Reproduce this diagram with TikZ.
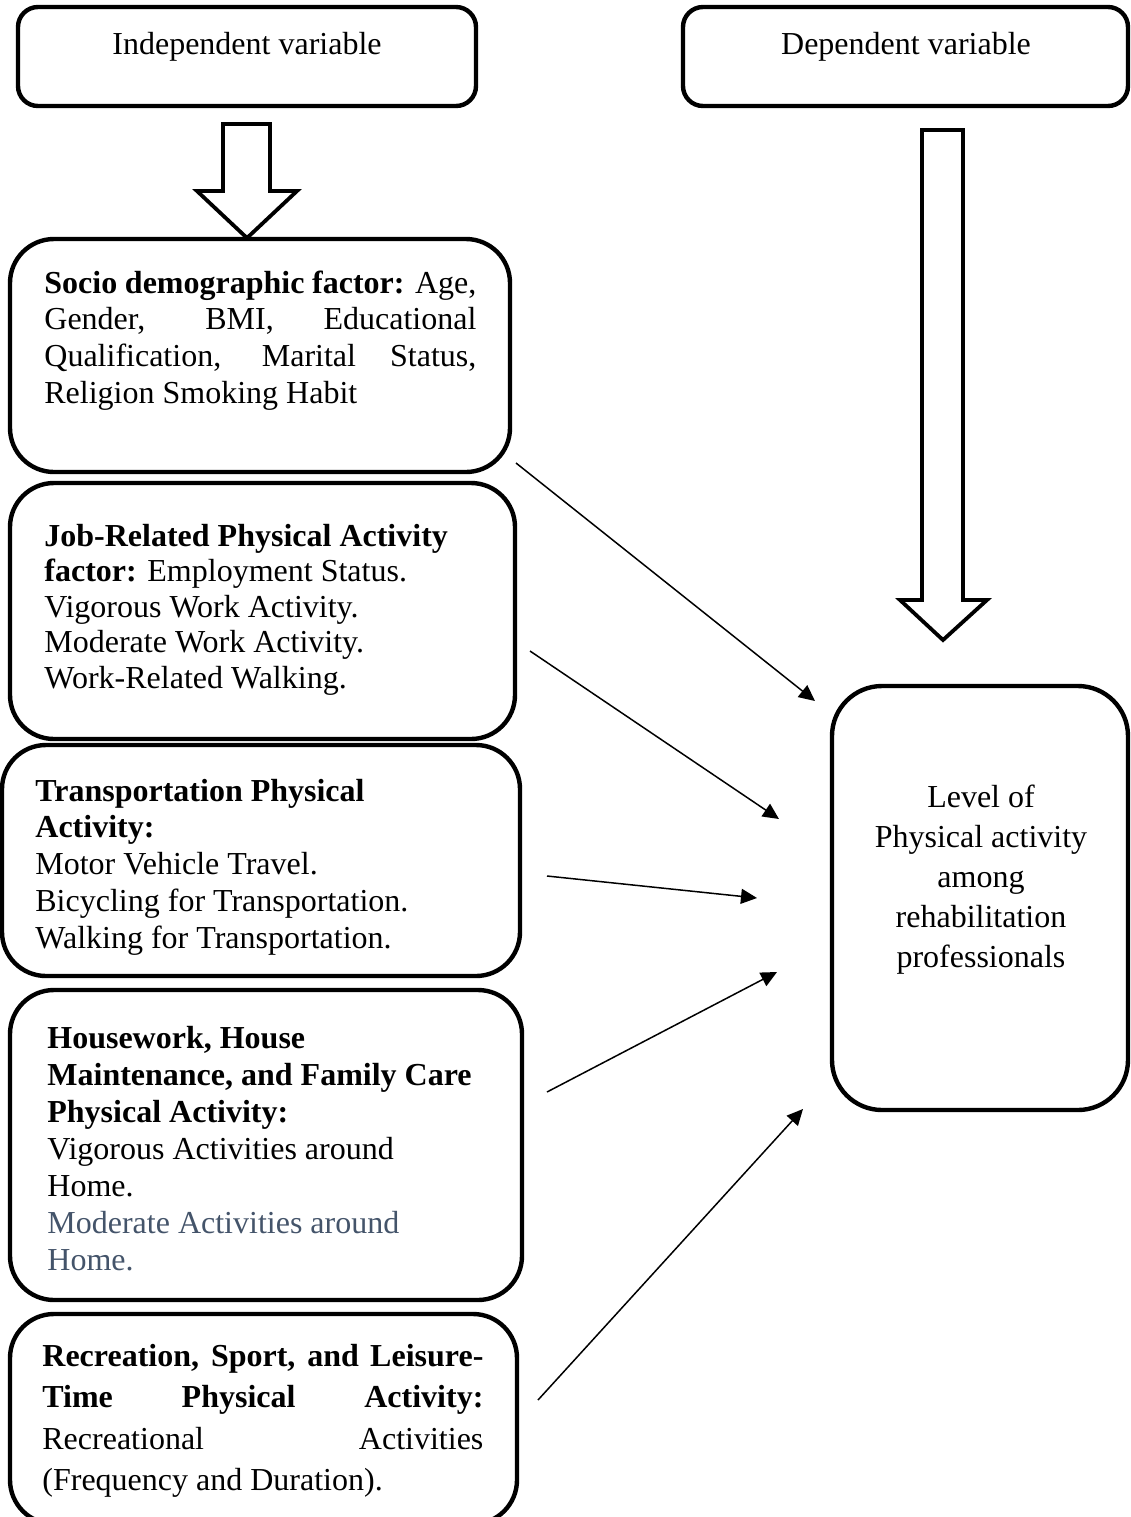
\documentclass[tikz,border=0pt]{standalone}
\usepackage{fontspec}
\setmainfont{Liberation Serif}
\usetikzlibrary{arrows.meta,fit}
\definecolor{slate}{RGB}{68,84,106}
\newcommand{\natspaces}{\spaceskip=0pt\xspaceskip=0pt\relax}
\begin{document}
\begin{tikzpicture}[x=0.5pt,y=-0.5pt,
  box/.style={draw, line width=2.2pt, rounded corners=22pt, inner sep=0pt},
  hdbox/.style={box, rounded corners=10pt},
  txt/.style={anchor=base west, inner sep=0pt},
  conn/.style={line width=0.75pt, -{Triangle[length=8pt,width=7.5pt]}},
  blk/.style={draw, line width=1.9pt, fill=white, miter limit=10},
  font=\fontsize{16}{18.3}\selectfont]
\useasboundingbox (0,0) rectangle (1131,1517);

% header boxes
\node[hdbox, fit={(18,7) (476,106)}] (iv) {};
\node[hdbox, fit={(683,7) (1128,106)}] (dv) {};
\node[anchor=base, inner sep=0pt] (ivt) at (247,54) {Independent variable};
\node[anchor=base, inner sep=0pt] (dvt) at (906,54) {Dependent variable};

% block arrows
\draw[blk] (223,124) -- (270,124) -- (270,191) -- (297,191) -- (247,238) -- (197,191) -- (223,191) -- cycle;
\draw[blk] (922,130) -- (963,130) -- (963,600) -- (987,600) -- (943,640) -- (900,600) -- (922,600) -- cycle;

% left boxes
\node[box, fit={(10,239) (510,472)}] (socio) {};
\node[box, fit={(10,483) (515,739)}] (job) {};
\node[box, fit={(2,745) (520,976)}] (trans) {};
\node[box, fit={(10,990) (522,1300)}] (house) {};
\node[box, fit={(10,1314) (517,1524)}] (recr) {};

% dependent box
\node[box, rounded corners=25pt, fit={(832,686) (1128,1110)}] (level) {};

% texts
\node[txt, text width=216pt, font=\fontsize{16}{18.35}\selectfont] (sociot) at (44,293) {\natspaces
\makebox[\linewidth][s]{\textbf{Socio demographic factor:} Age,}\\
\makebox[\linewidth][s]{Gender, BMI, Educational}\\
\makebox[\linewidth][s]{Qualification, Marital Status,}\\
Religion Smoking Habit};

\node[txt, text width=225pt, font=\fontsize{16}{17.75}\selectfont] (jobt) at (44,546) {\natspaces
\textbf{Job-Related Physical Activity}\\
\textbf{factor:} Employment Status.\\
Vigorous Work Activity.\\
Moderate Work Activity.\\
Work-Related Walking.};

\node[txt, text width=235pt, font=\fontsize{16}{18.4}\selectfont] (transt) at (35,801) {\natspaces
\textbf{Transportation Physical}\\
\textbf{Activity:}\\
Motor Vehicle Travel.\\
Bicycling for Transportation.\\
Walking for Transportation.};

\node[txt, text width=230pt, font=\fontsize{16}{18.5}\selectfont] (houset) at (47,1048) {\natspaces
\textbf{Housework, House}\\
\textbf{Maintenance, and Family Care}\\
\textbf{Physical Activity:}\\
Vigorous Activities around\\
Home.\\
\textcolor{slate}{Moderate Activities around}\\
\textcolor{slate}{Home.}};

\node[txt, text width=220.5pt, font=\fontsize{16}{20.8}\selectfont] (recrt) at (42,1366) {\natspaces
\makebox[\linewidth][s]{\textbf{Recreation, Sport, and Leisure-}}\\
\makebox[\linewidth][s]{\textbf{Time Physical Activity:}}\\
\makebox[\linewidth][s]{Recreational Activities}\\
(Frequency and Duration).};

\node[anchor=base, inner sep=0pt, text width=140pt, font=\fontsize{16}{20.1}\selectfont] (levelt) at (981,807) {\natspaces
\centering Level of\\ Physical activity\\ among\\ rehabilitation\\ professionals\par};

% connectors
\coordinate (a1s) at (516,463);  \coordinate (a1e) at (815,701);
\coordinate (a2s) at (530,651);  \coordinate (a2e) at (779,819);
\coordinate (a3s) at (547,876);  \coordinate (a3e) at (757,898);
\coordinate (a4s) at (547,1092); \coordinate (a4e) at (777,972);
\coordinate (a5s) at (538,1400); \coordinate (a5e) at (803,1109);
\draw[conn] (a1s) -- (a1e);
\draw[conn] (a2s) -- (a2e);
\draw[conn] (a3s) -- (a3e);
\draw[conn] (a4s) -- (a4e);
\draw[conn] (a5s) -- (a5e);
\end{tikzpicture}
\end{document}
